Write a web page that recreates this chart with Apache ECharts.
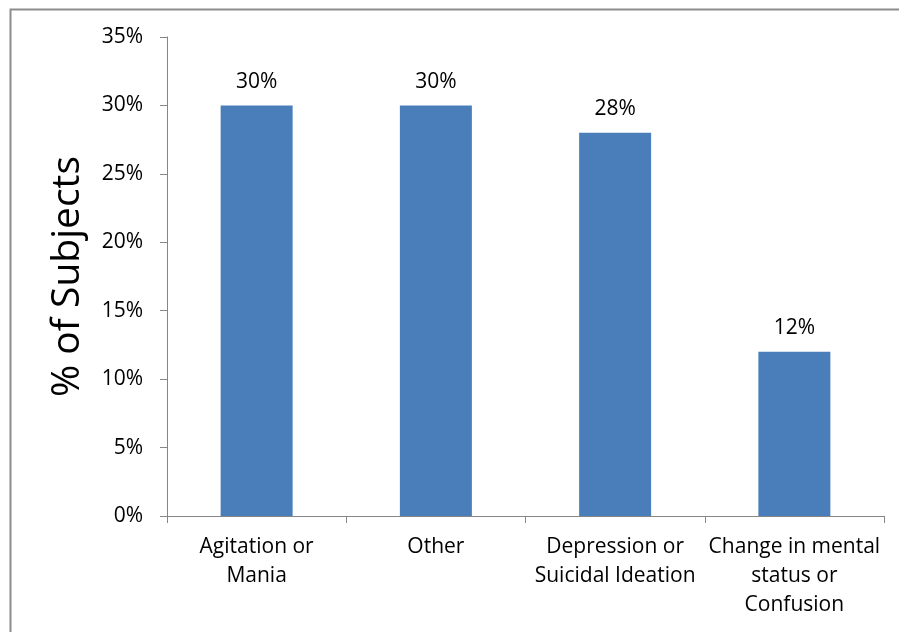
<!DOCTYPE html>
<html>
<head>
<meta charset="utf-8">
<script src="https://cdn.jsdelivr.net/npm/echarts@6/dist/echarts.min.js"></script>
<style>
html,body{margin:0;padding:0;background:#fff;}
#chart{width:899px;height:632px;}
</style>
</head>
<body>
<div id="chart"></div>
<script>
var categories = ['Agitation or\nMania', 'Other', 'Depression or\nSuicidal Ideation', 'Change in mental\nstatus or\nConfusion'];
var values = [30, 30, 28, 12];
var yTicks = [0, 5, 10, 15, 20, 25, 30, 35];

var FONT = '"Open Sans", Lato, sans-serif';
var chart = echarts.init(document.getElementById('chart'));
chart.setOption({
  animation: false,
  backgroundColor: '#fff',
  graphic: [{
    type: 'rect',
    shape: {x: 10.5, y: 9.5, width: 1000, height: 1000},
    style: {fill: 'none', stroke: '#8c8c8c', lineWidth: 2},
    silent: true
  }],
  grid: {left: 167, right: 15, top: 37, bottom: 116, containLabel: false},
  xAxis: {
    type: 'category',
    data: categories,
    axisLine: {lineStyle: {color: '#868686', width: 1}},
    axisTick: {show: true, alignWithLabel: false, length: 7, lineStyle: {color: '#868686'}},
    axisLabel: {color: '#000', fontFamily: FONT, fontSize: 21, lineHeight: 29, margin: 17, interval: 0}
  },
  yAxis: {
    type: 'value',
    min: yTicks[0],
    max: yTicks[yTicks.length - 1],
    interval: 5,
    name: '% of Subjects',
    nameLocation: 'middle',
    nameGap: 80,
    nameRotate: 90,
    nameTextStyle: {color: '#000', fontFamily: FONT, fontSize: 39},
    axisLine: {show: true, lineStyle: {color: '#868686', width: 1}},
    axisTick: {show: true, length: 7, lineStyle: {color: '#868686'}},
    splitLine: {show: false},
    axisLabel: {color: '#000', fontFamily: FONT, fontSize: 21, margin: 24, formatter: function (v) { return v + '%'; }}
  },
  series: [{
    type: 'bar',
    data: values,
    barWidth: 72,
    itemStyle: {color: '#4a7ebb'},
    label: {show: true, position: 'top', distance: 13, color: '#000', fontFamily: FONT, fontSize: 21, formatter: function (p) { return p.value + '%'; }}
  }]
});
</script>
</body>
</html>
